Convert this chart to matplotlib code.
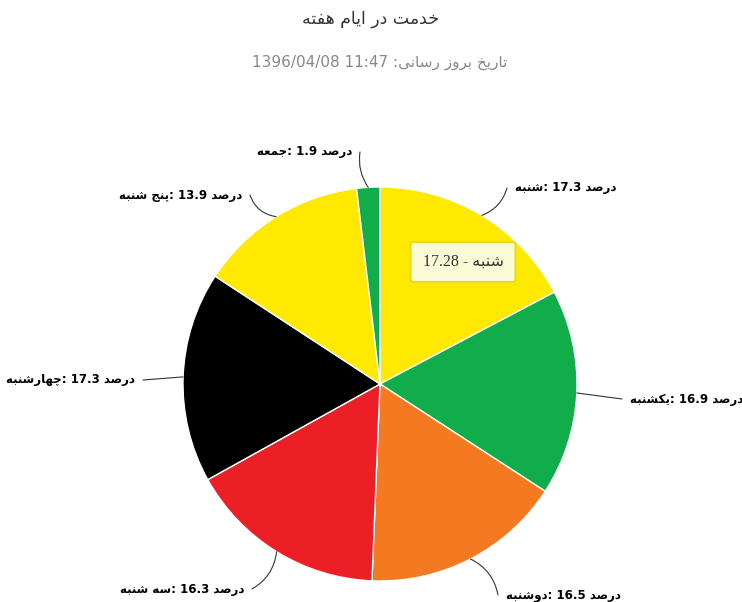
import re
import matplotlib
matplotlib.use('Agg')
import matplotlib.pyplot as plt
import numpy as np

# data
days = ['شنبه', 'یکشنبه', 'دوشنبه', 'سه شنبه', 'چهارشنبه', 'پنج شنبه', 'جمعه']
percents = [17.3, 16.9, 16.5, 16.3, 17.3, 13.9, 1.9]
colors = ['#ffe900', '#12ad4b', '#f47920', '#ec1f26', '#000000', '#ffe900', '#12ad4b']
unit = 'درصد'
title = 'خدمت در ایام هفته'
subtitle = 'تاریخ بروز رسانی: 11:47 1396/04/08'
tooltip_day = 'شنبه'
tooltip_value = 17.28

# matplotlib has no arabic shaping, so do a small one by hand
DUAL = {'ب': 0xFE8F, 'ت': 0xFE95, 'ج': 0xFE9D, 'خ': 0xFEA5, 'س': 0xFEB1,
        'ش': 0xFEB5, 'ص': 0xFEB9, 'ع': 0xFEC9, 'ف': 0xFED1, 'م': 0xFEE1,
        'ن': 0xFEE5, 'ه': 0xFEE9, 'پ': 0xFB56, 'چ': 0xFB7A, 'ک': 0xFB8E,
        'ی': 0xFBFC}
RIGHT = {'ا': 0xFE8D, 'د': 0xFEA9, 'ر': 0xFEAD, 'ز': 0xFEAF, 'و': 0xFEED}


def shape(text):
    out = []
    for i, ch in enumerate(text):
        base = DUAL.get(ch, RIGHT.get(ch))
        if base is None:
            out.append(ch)
            continue
        prev = text[i - 1] if i > 0 else ''
        nxt = text[i + 1] if i + 1 < len(text) else ''
        form = 0
        if prev in DUAL:
            form += 1
        if ch in DUAL and (nxt in DUAL or nxt in RIGHT):
            form += 2
        out.append(chr(base + form))
    return ''.join(out)


def rtl(text):
    rev = shape(text)[::-1]
    return re.sub(r'[0-9][0-9.:/]*[0-9]|[0-9]', lambda m: m.group()[::-1], rev)


W, H = 742, 602
fig = plt.figure(figsize=(W / 100, H / 100), dpi=100)

cx, cy, r = 380, 384, 197
ax = fig.add_axes([(cx - r) / W, (H - cy - r) / H, 2 * r / W, 2 * r / H])
wedges, _ = ax.pie(percents, colors=colors, startangle=90, counterclock=False,
                   radius=1, wedgeprops=dict(edgecolor='white', linewidth=1))
ax.set_xlim(-1, 1)
ax.set_ylim(-1, 1)
ax.set_aspect('equal')
ax.axis('off')


def px(x, y):
    return (x - cx) / r, (cy - y) / r


# where each connector ends and the label starts (pixels)
label_pos = [(507, 188, 'left'), (622, 399, 'left'), (498, 595, 'left'),
             (252, 589, 'right'), (143, 380, 'right'), (250, 195, 'right'),
             (360, 152, 'right')]
rads = [-0.25, 0.0, 0.25, 0.25, 0.0, 0.3, 0.2]

for w, day, val, (lx, ly, ha), rad in zip(wedges, days, percents, label_pos, rads):
    mid = np.deg2rad((w.theta1 + w.theta2) / 2)
    edge = (np.cos(mid), np.sin(mid))
    end = px(lx, ly)
    ax.annotate('', xy=edge, xytext=end, annotation_clip=False,
                arrowprops=dict(arrowstyle='-', color='#333333', lw=0.8,
                                connectionstyle=f'arc3,rad={rad}',
                                shrinkA=0, shrinkB=0))
    tx = lx + 8 if ha == 'left' else lx - 8
    txt = f'{rtl(day)}: {val} {rtl(unit)}'
    fig.text(tx / W, 1 - ly / H, txt, ha=ha, va='center', fontsize=8.5,
             fontweight='bold', color='#000000',
             family=['DejaVu Sans'])

fig.text(371 / W, 1 - 19 / H, rtl(title), ha='center', va='center',
         fontsize=12.5, color='#333333')
fig.text(380 / W, 1 - 62 / H, rtl(subtitle), ha='center', va='center',
         fontsize=11, color='#888888')

# tooltip box
fig.text(463 / W, 1 - 262 / H, rtl(f'{tooltip_day} - {tooltip_value}'),
         ha='center', va='center', fontsize=11.5, color='#333333',
         family=['Liberation Serif', 'DejaVu Sans'],
         bbox=dict(boxstyle='round,pad=0.75,rounding_size=0.2', fc='#fafad6',
                   ec='#e8dc20', lw=1.5))

fig.savefig('out.png', dpi=100, facecolor='white')
